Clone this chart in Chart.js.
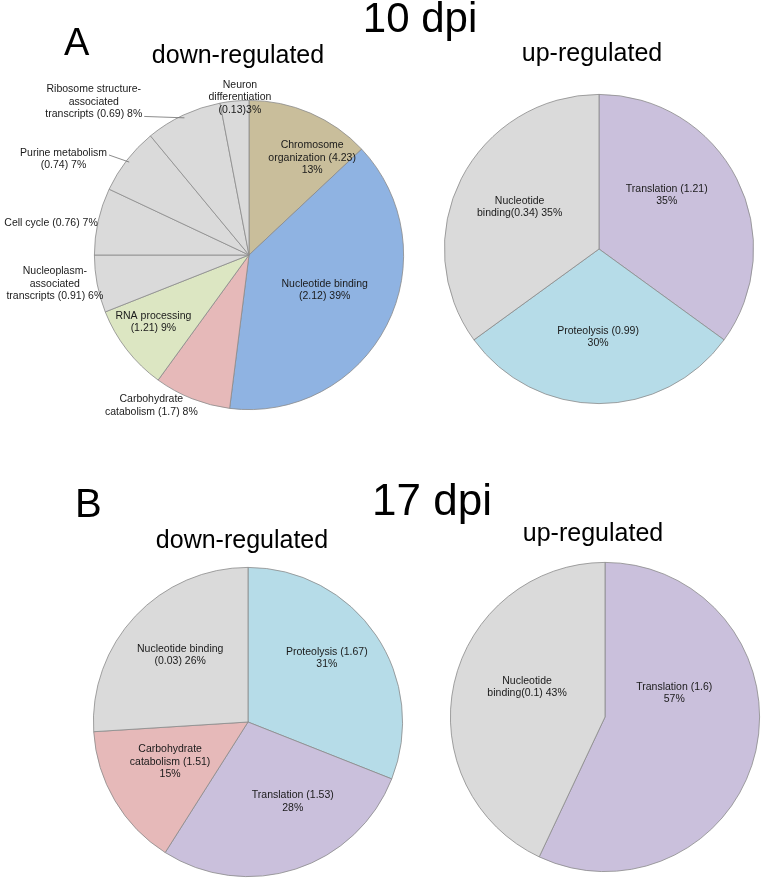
<!DOCTYPE html>
<html lang="en">
<head>
    <meta charset="UTF-8">
    <title>GO categories, 10 dpi and 17 dpi</title>
    <script src="https://cdn.jsdelivr.net/npm/chart.js"></script>
    <style>
        body {
            margin: 0;
            padding: 0;
            background: #fff;
            font-family: "Liberation Sans", Arial, Helvetica, sans-serif;
        }
        .page {
            position: relative;
            width: 764px;
            height: 881px;
            overflow: hidden;
        }
        .page canvas {
            position: absolute;
            left: 0;
            top: 0;
        }
        .t {
            position: absolute;
            line-height: 1;
            color: #000;
            white-space: nowrap;
        }
        .c { transform: translateX(-50%); }
    </style>
</head>
<body>
<div class="page">
    <canvas id="aDown" width="764" height="881"></canvas>
    <canvas id="aUp" width="764" height="881"></canvas>
    <canvas id="bDown" width="764" height="881"></canvas>
    <canvas id="bUp" width="764" height="881"></canvas>

    <div class="t c" style="left:420px; top:-3px; font-size:42px;">10 dpi</div>
    <div class="t" style="left:64px; top:23px; font-size:38px;">A</div>
    <div class="t c" style="left:238px; top:42px; font-size:25px;">down-regulated</div>
    <div class="t c" style="left:592px; top:40px; font-size:25px;">up-regulated</div>

    <div class="t c" style="left:432px; top:478px; font-size:44px;">17 dpi</div>
    <div class="t" style="left:75px; top:483px; font-size:40px;">B</div>
    <div class="t c" style="left:242px; top:527px; font-size:25px;">down-regulated</div>
    <div class="t c" style="left:593px; top:520px; font-size:25px;">up-regulated</div>
</div>

<script>
    // 10 dpi, down-regulated (clockwise from 12 o'clock)
    const aDownCategories = ['Chromosome organization', 'Nucleotide binding', 'Carbohydrate catabolism',
        'RNA processing', 'Nucleoplasm-associated transcripts', 'Cell cycle', 'Purine metabolism',
        'Ribosome structure-associated transcripts', 'Neuron differentiation'];
    const aDownPercent = [13, 39, 8, 9, 6, 7, 7, 8, 3];
    const aDownText = [
        ['Chromosome', 'organization (4.23)', '13%'],
        ['Nucleotide binding', '(2.12) 39%'],
        ['Carbohydrate', 'catabolism (1.7) 8%'],
        ['RNA processing', '(1.21) 9%'],
        ['Nucleoplasm-', 'associated', 'transcripts (0.91) 6%'],
        ['Cell cycle (0.76) 7%'],
        ['Purine metabolism', '(0.74) 7%'],
        ['Ribosome structure-', 'associated', 'transcripts (0.69) 8%'],
        ['Neuron', 'differentiation', '(0.13)3%']
    ];

    // 10 dpi, up-regulated
    const aUpCategories = ['Translation', 'Proteolysis', 'Nucleotide binding'];
    const aUpPercent = [35, 30, 35];
    const aUpText = [
        ['Translation (1.21)', '35%'],
        ['Proteolysis (0.99)', '30%'],
        ['Nucleotide', 'binding(0.34) 35%']
    ];

    // 17 dpi, down-regulated
    const bDownCategories = ['Proteolysis', 'Translation', 'Carbohydrate catabolism', 'Nucleotide binding'];
    const bDownPercent = [31, 28, 15, 26];
    const bDownText = [
        ['Proteolysis (1.67)', '31%'],
        ['Translation (1.53)', '28%'],
        ['Carbohydrate', 'catabolism (1.51)', '15%'],
        ['Nucleotide binding', '(0.03) 26%']
    ];

    // 17 dpi, up-regulated
    const bUpCategories = ['Translation', 'Nucleotide binding'];
    const bUpPercent = [57, 43];
    const bUpText = [
        ['Translation (1.6)', '57%'],
        ['Nucleotide', 'binding(0.1) 43%']
    ];

    const COL = {
        tan: '#c9be9b',
        blue: '#8fb3e2',
        pink: '#e6b9b9',
        green: '#dce6c2',
        gray: '#dadada',
        purple: '#cac0dc',
        cyan: '#b6dce8'
    };

    // label placement: [angle deg clockwise from top, distance in radii, align, leader line index]
    const aDownPlace = [[33, 0.75], [115, 0.54], [213, 1.16], [235, 0.755], [261.5, 1.27],
        [281.9, 1.0, 'right'], [297.3, 1.35, 'center', 0], [314.6, 1.41, 'center', 2], [356.7, 1.02]];
    const aUpPlace = [[51.5, 0.56], [180.6, 0.57], [297.7, 0.58]];
    const bDownPlace = [[51, 0.656], [150.6, 0.59], [242.9, 0.566], [314.6, 0.616]];
    const bUpPlace = [[70.8, 0.474], [291, 0.54]];

    const sliceLabels = {
        id: 'sliceLabels',
        afterDatasetsDraw(chart, args, opts) {
            const ctx = chart.ctx;
            const arcs = chart.getDatasetMeta(0).data;
            const lh = 12.5;
            ctx.save();
            ctx.font = '10.5px "Liberation Sans", Arial, sans-serif';
            ctx.textBaseline = 'middle';
            arcs.forEach((arc, i) => {
                const {x, y, outerRadius, startAngle, endAngle} =
                    arc.getProps(['x', 'y', 'outerRadius', 'startAngle', 'endAngle'], true);
                const p = opts.place[i];
                const lines = opts.text[i];
                const a = (p[0] - 90) * Math.PI / 180;
                const lx = x + Math.cos(a) * p[1] * outerRadius;
                const ly = y + Math.sin(a) * p[1] * outerRadius;
                const top = ly - (lines.length - 1) * lh / 2;
                ctx.textAlign = p[2] || 'center';
                ctx.fillStyle = '#1a1a1a';
                lines.forEach((t, k) => ctx.fillText(t, lx, top + k * lh));

                if (p[3] != null) {
                    const w = ctx.measureText(lines[p[3]]).width;
                    const sx = lx + w / 2 + 2;
                    const sy = top + p[3] * lh + 2;
                    const mid = (startAngle + endAngle) / 2;
                    const ex = x + Math.cos(mid) * (outerRadius - 3);
                    const ey = y + Math.sin(mid) * (outerRadius - 3);
                    ctx.strokeStyle = '#6e6e6e';
                    ctx.lineWidth = 0.8;
                    ctx.beginPath();
                    ctx.moveTo(sx, sy);
                    ctx.lineTo(ex, ey);
                    ctx.stroke();
                }
            });
            ctx.restore();
        }
    };

    function padFor(cx, cy, r) {
        return {left: cx - r, top: cy - r, right: 764 - (cx + r), bottom: 881 - (cy + r)};
    }

    function makePie(id, categories, values, colors, text, place, padding) {
        return new Chart(document.getElementById(id), {
            type: 'pie',
            data: {
                labels: categories,
                datasets: [{
                    data: values,
                    backgroundColor: colors,
                    borderColor: '#8a8a8a',
                    borderWidth: 0.8
                }]
            },
            options: {
                responsive: false,
                animation: false,
                events: [],
                layout: {padding: padding},
                plugins: {
                    legend: {display: false},
                    tooltip: {enabled: false},
                    sliceLabels: {text: text, place: place}
                }
            },
            plugins: [sliceLabels]
        });
    }

    makePie('aDown', aDownCategories, aDownPercent,
        [COL.tan, COL.blue, COL.pink, COL.green, COL.gray, COL.gray, COL.gray, COL.gray, COL.gray],
        aDownText, aDownPlace, padFor(249, 255, 155));
    makePie('aUp', aUpCategories, aUpPercent,
        [COL.purple, COL.cyan, COL.gray], aUpText, aUpPlace, padFor(599, 249, 155));
    makePie('bDown', bDownCategories, bDownPercent,
        [COL.cyan, COL.purple, COL.pink, COL.gray], bDownText, bDownPlace, padFor(248, 722, 155));
    makePie('bUp', bUpCategories, bUpPercent,
        [COL.purple, COL.gray], bUpText, bUpPlace, padFor(605, 717, 155));
</script>
</body>
</html>
